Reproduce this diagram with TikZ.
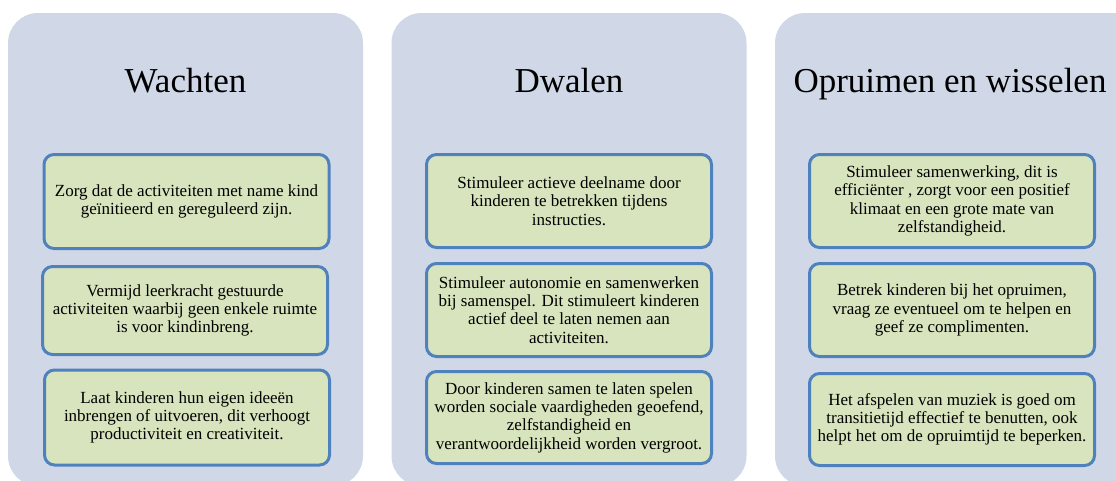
\documentclass[tikz,border=0pt]{standalone}
\usepackage{fontspec}
\setmainfont{Liberation Serif}
\definecolor{panelfill}{HTML}{D0D8E8}
\definecolor{boxfill}{HTML}{D7E4BD}
\definecolor{boxline}{HTML}{4F81BD}
\begin{document}
\begin{tikzpicture}[x=1pt,y=-1pt,
  panel/.style={fill=panelfill, rounded corners=30pt, minimum width=355pt, minimum height=473pt, inner sep=0pt},
  tipbox/.style={draw=boxline, line width=3pt, fill=boxfill, rounded corners=10pt,
    minimum width=285pt, inner sep=0pt, align=center,
    font=\fontsize{17}{18.3}\selectfont},
  paneltitle/.style={anchor=base, inner sep=0pt, font=\fontsize{35}{40}\selectfont}
]
\useasboundingbox (0,0) rectangle (1116,480);
\clip (0,0) rectangle (1116,480);

% panels
\node[panel] (p1) at (185.5,249.5) {};
\node[panel] (p2) at (569,249.5) {};
\node[panel, minimum width=375pt] (p3) at (962.5,249.5) {};

% titles
\node[paneltitle] (t1) at (185.5,92) {Wachten};
\node[paneltitle] (t2) at (569,92) {Dwalen};
\node[paneltitle] (t3) at (950,92) {Opruimen en wisselen};

% panel 1
\node[tipbox, minimum height=94pt] (a1) at (186.5,201.5) {Zorg dat de activiteiten met name kind\\ geïnitieerd en gereguleerd zijn.};
\node[tipbox, minimum height=88pt] (a2) at (185,310.5) {Vermijd leerkracht gestuurde\\ activiteiten waarbij geen enkele ruimte\\ is voor kindinbreng.};
\node[tipbox, minimum height=95pt] (a3) at (187,417.5) {Laat kinderen hun eigen ideeën\\ inbrengen of uitvoeren, dit verhoogt\\ productiviteit en creativiteit.};

% panel 2
\node[tipbox, minimum height=93pt] (b1) at (569,201) {Stimuleer actieve deelname door\\ kinderen te betrekken tijdens\\ instructies.};
\node[tipbox, minimum height=93pt] (b2) at (569,310) {Stimuleer autonomie en samenwerken\\ bij samenspel. Dit stimuleert kinderen\\ actief deel te laten nemen aan\\ activiteiten.};
\node[tipbox, minimum height=92pt] (b3) at (569,417.5) {Door kinderen samen te laten spelen\\ worden sociale vaardigheden geoefend,\\ zelfstandigheid en\\ verantwoordelijkheid worden vergroot.};

% panel 3
\node[tipbox, minimum height=93pt] (c1) at (952,201) {Stimuleer samenwerking, dit is\\ efficiënter , zorgt voor een positief\\ klimaat en een grote mate van\\ zelfstandigheid.};
\node[tipbox, minimum height=93pt] (c2) at (952,310) {Betrek kinderen bij het opruimen,\\ vraag ze eventueel om te helpen en\\ geef ze complimenten.};
\node[tipbox, minimum height=92pt] (c3) at (952,419.5) {Het afspelen van muziek is goed om\\ transitietijd effectief te benutten, ook\\ helpt het om de opruimtijd te beperken.};
\end{tikzpicture}
\end{document}
